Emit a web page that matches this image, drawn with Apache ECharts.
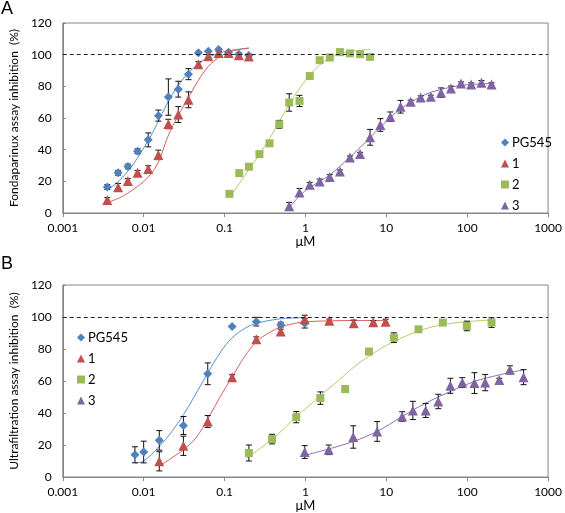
<!DOCTYPE html>
<html><head><meta charset="utf-8">
<script src="https://cdn.jsdelivr.net/npm/echarts@6/dist/echarts.min.js"></script>
<style>html,body{margin:0;padding:0;background:#fff}#c{width:565px;height:513px}</style>
</head><body><div id="c"></div>
<script>
// ---------- tick labels ----------
const xTickLabels = ['0.001','0.01','0.1','1','10','100','1000'];
const yTickLabels = ['0','20','40','60','80','100','120'];
const seriesNames = ['PG545','1','2','3'];
const refLevel = [100];

// ---------- Panel A: Fondaparinux assay ----------
const pgA_x = [0.00355,0.00483,0.00638,0.0084,0.0114,0.0152,0.0202,0.0268,0.0358,0.0475,0.063,0.0845,0.112,0.15,0.2];
const pgA_y = [16.4,25.4,29.4,39.0,46.2,61.5,73.2,78.2,87.7,101.2,102.2,103.2,101.5,100.2,99.4];
const pgA_e = [1.5,1.5,1.5,1.5,4.4,3.5,11.5,5,3.5,0,0,0,0,0,0];
const oneA_x = [0.00355,0.00483,0.00638,0.0084,0.0114,0.0152,0.0202,0.0268,0.0358,0.0475,0.063,0.0845,0.112,0.15,0.2];
const oneA_y = [8.2,16.2,20.2,25.4,27.8,36.7,56.2,62.2,71.5,94.0,99.0,101.0,101.0,99.6,98.8];
const oneA_e = [1.5,2.5,1.5,1.5,2,3,3,5,5,1.5,1,1,1,1.5,1.5];
const twoA_x = [0.115,0.152,0.2,0.27,0.36,0.475,0.63,0.845,1.13,1.5,2.0,2.67,3.55,4.74,6.3];
const twoA_y = [12.1,25.2,29.2,37.2,44.0,56.0,69.8,70.8,86.5,96.5,98.2,101.6,100.8,100.3,98.6];
const twoA_e = [0,0,0,0,0,2.5,5.5,3.5,0,0,0,0,0,0,0];
const threeA_x = [0.63,0.845,1.13,1.5,2.0,2.67,3.55,4.74,6.3,8.45,11.2,15.0,20,26.6,35.5,47.5,63,84,112,150,200];
const threeA_y = [4.2,13.0,17.8,19.9,22.7,26.2,35.0,37.3,47.8,55.6,60.8,67.1,70.3,73.0,73.4,76.0,78.7,81.8,81.2,82.2,81.2];
const threeA_e = [2.5,2.5,1.5,1.5,1.5,1,1,1,5,4,3,4,1,1,1,3,1.5,1,1,1.5,1];
// fitted curves
const fitPgA_x = [0.0036,0.005,0.007,0.01,0.013,0.017,0.022,0.03,0.04,0.055,0.08,0.12,0.2];
const fitPgA_y = [14.5,20.5,29,41,51,63,74,84,91,96.5,100.5,102.8,104];
const fitOneA_x = [0.0036,0.005,0.0064,0.0084,0.0114,0.015,0.02,0.027,0.036,0.047,0.063,0.085,0.112,0.15,0.2];
const fitOneA_y = [6.7,9.5,12.6,16.8,22.7,31.5,48.5,62,73,83.5,92.5,98.3,101.5,103.2,104.3];
const fitTwoA_x = [0.115,0.152,0.2,0.27,0.36,0.47,0.63,0.84,1.13,1.5,2,2.67,3.55,4.74,6.3];
const fitTwoA_y = [9.5,18.5,27.5,37,47,57.5,68.5,78.5,87,93.5,97.8,100.5,102,102.8,103.3];
const fitThreeA_x = [0.63,0.85,1.13,1.5,2,2.66,3.55,4.74,6.3,8.45,11.2,15,20,26.6,35.5,47.5,63,84,112,200];
const fitThreeA_y = [3.2,11,16.1,19.9,24.1,29.4,35.3,41.3,47.8,54.1,60.4,65.7,69.9,73.4,76.2,78,79.5,80.6,81.2,81.8];

// ---------- Panel B: Ultrafiltration assay ----------
const pgB_x = [0.0078,0.01,0.0156,0.031,0.062,0.124,0.247,0.495,0.98];
const pgB_y = [13.9,15.6,22.9,32.2,64.5,94.0,97.1,95.2,96.1];
const pgB_e = [5,6.8,6.1,5.6,6.8,0,2.7,1.5,3];
const oneB_x = [0.0156,0.031,0.062,0.124,0.247,0.495,0.98,1.97,3.95,6.9,9.8];
const oneB_y = [9.8,19.5,34.7,62.4,86.1,90.9,98.6,97.7,96.1,96.7,97.1];
const oneB_e = [6,6,3.7,1.5,1.5,1.5,2.5,1,2,1,1.5];
const twoB_x = [0.2,0.387,0.77,1.53,3.1,6.1,12.4,25,50,99,200];
const twoB_y = [15.0,23.7,37.4,49.3,54.9,78.4,87.1,92.3,96.5,94.4,96.5];
const twoB_e = [5,3,3.5,3.9,2,1,3,1,1,3,3];
const threeB_x = [0.98,1.94,3.9,7.7,15.7,21.3,30.7,43.9,62,87,123,167,249,337,498];
const threeB_y = [15.6,17.0,25.0,28.5,37.8,41.6,41.6,47.2,57.0,59.0,58.7,59.0,60.7,67.0,62.4];
const threeB_e = [4,3,7,6.2,3,5.7,4.4,4.5,4.7,3.1,6.5,5.1,1,2.5,4.7];
const fitPgB_x = [0.0078,0.01,0.0156,0.022,0.031,0.042,0.062,0.089,0.124,0.18,0.247,0.48,1.0];
const fitPgB_y = [8.7,10,19.1,28,38.9,50,65,78,87,93,96,98.8,99.6];
const fitOneB_x = [0.017,0.022,0.031,0.044,0.062,0.089,0.124,0.177,0.247,0.35,0.5,0.7,1.0,2.0,4,10];
const fitOneB_y = [8,11.8,17,24.3,36.2,50.5,62.4,75.3,84.5,90,93.8,95.8,97,97.6,97.8,97.8];
const fitTwoB_x = [0.187,0.27,0.387,0.55,0.77,1.11,1.53,2.2,3.1,4.4,6.1,8.7,12.4,25,50,100,200];
const fitTwoB_y = [11.8,17.5,23.7,30.5,37.8,44.5,51,57.5,64,70.5,75.5,80.5,84.6,91.3,95.2,97.1,98.1];
const fitThreeB_x = [0.98,1.94,3.9,7.7,15.7,30.7,62,123,249,498];
const fitThreeB_y = [13.5,17.5,22.2,28.5,37.8,46.2,53.4,59.7,63.8,67];

// ---------- styling ----------
const FONT = 'Lato';
const markerColors = ['#4F81BD','#C0504D','#9BBB59','#8064A2'];
const lineColors = ['#5B8FD3','#D9625E','#B5CC6A','#8F72B5'];
const symbols = ['diamond','triangle','rect','triangle'];
const symSizes = [9,10,8,10];

const zip = (xs, ys) => xs.map((x,i)=>[x, ys[i]]);
const zip3 = (xs, ys, es) => xs.map((x,i)=>[x, ys[i], es[i]]);

function errRender(params, api){
  const x = api.value(0), y = api.value(1), e = api.value(2);
  if (!e) return null;
  const t = api.coord([x, y+e]), b = api.coord([x, y-e]);
  const w = 3;
  const st = {stroke:'#111', lineWidth:1};
  return {type:'group', children:[
    {type:'line', shape:{x1:t[0],y1:t[1],x2:b[0],y2:b[1]}, style:st},
    {type:'line', shape:{x1:t[0]-w,y1:t[1],x2:t[0]+w,y2:t[1]}, style:st},
    {type:'line', shape:{x1:b[0]-w,y1:b[1],x2:b[0]+w,y2:b[1]}, style:st}
  ]};
}

function xAxisCfg(gi){
  return {
    type:'log', logBase:10, min:0.001, max:1000, gridIndex:gi,
    name:'μM', nameLocation:'middle', nameGap:22,
    nameTextStyle:{fontFamily:FONT, fontSize:13, color:'#000'},
    axisLine:{lineStyle:{color:'#868686', width:1}},
    axisTick:{show:true, inside:false, length:4, lineStyle:{color:'#868686'}},
    axisLabel:{fontFamily:FONT, fontSize:12, color:'#000', margin:9,
      formatter:(v)=> xTickLabels[Math.round(Math.log10(v))+3]},
    splitLine:{show:false}
  };
}
function yAxisCfg(gi, name){
  return {
    type:'value', min:0, max:120, interval:20, gridIndex:gi,
    name:name, nameLocation:'middle', nameGap:36,
    nameTextStyle:{fontFamily:FONT, fontSize:12, color:'#000'},
    axisLine:{show:true, lineStyle:{color:'#868686', width:1}},
    axisTick:{show:true, inside:true, length:3, lineStyle:{color:'#868686'}},
    axisLabel:{fontFamily:FONT, fontSize:12, color:'#000', margin:11,
      formatter:(v)=> yTickLabels[Math.round(v/20)]},
    splitLine:{show:false}
  };
}

const panels = [
  {pts:[[pgA_x,pgA_y,pgA_e],[oneA_x,oneA_y,oneA_e],[twoA_x,twoA_y,twoA_e],[threeA_x,threeA_y,threeA_e]],
   fits:[[fitPgA_x,fitPgA_y],[fitOneA_x,fitOneA_y],[fitTwoA_x,fitTwoA_y],[fitThreeA_x,fitThreeA_y]]},
  {pts:[[pgB_x,pgB_y,pgB_e],[oneB_x,oneB_y,oneB_e],[twoB_x,twoB_y,twoB_e],[threeB_x,threeB_y,threeB_e]],
   fits:[[fitPgB_x,fitPgB_y],[fitOneB_x,fitOneB_y],[fitTwoB_x,fitTwoB_y],[fitThreeB_x,fitThreeB_y]]}
];

const series = [];
panels.forEach((p, gi)=>{
  // fitted lines
  p.fits.forEach((f, k)=>{
    series.push({
      name:'fit'+gi+'_'+k, type:'line', xAxisIndex:gi, yAxisIndex:gi,
      data: zip(f[0], f[1]), smooth:0.35, showSymbol:false, silent:true,
      lineStyle:{color:lineColors[k], width:1}, z:2,
      markLine: k===0 ? {silent:true, symbol:'none', label:{show:false},
        lineStyle:{color:'#222', width:1, type:[4,3]},
        data: refLevel.map(v=>({yAxis:v}))} : undefined
    });
  });
  // error bars
  p.pts.forEach((d, k)=>{
    series.push({
      name:'err'+gi+'_'+k, type:'custom', xAxisIndex:gi, yAxisIndex:gi,
      data: zip3(d[0], d[1], d[2]), renderItem: errRender,
      encode:{x:0, y:1}, silent:true, z:3
    });
  });
  // markers
  p.pts.forEach((d, k)=>{
    series.push({
      name: seriesNames[k], type:'scatter', xAxisIndex:gi, yAxisIndex:gi,
      data: zip(d[0], d[1]), symbol:symbols[k], symbolSize:symSizes[k],
      itemStyle:{color:markerColors[k], opacity:1}, z:4
    });
  });
});

function legendCfg(left, top){
  return {
    left:left, top:top, orient:'vertical', itemWidth:8, itemHeight:8, itemGap:8,
    textStyle:{fontFamily:FONT, fontSize:13, color:'#000', padding:[0,0,0,-2]},
    data: seriesNames.map((n,k)=>({name:n, icon:symbols[k]})),
    selectedMode:false
  };
}

const chart = echarts.init(document.getElementById('c'), null, {renderer:'canvas'});
chart.setOption({
  animation:false,
  backgroundColor:'#fff',
  grid:[
    {left:59, top:23, width:493, height:190, show:true, borderColor:'#868686', borderWidth:1},
    {left:60, top:285, width:492, height:192, show:true, borderColor:'#868686', borderWidth:1}
  ],
  xAxis:[xAxisCfg(0), xAxisCfg(1)],
  yAxis:[yAxisCfg(0,'Fondaparinux assay inhibition  (%)'), yAxisCfg(1,'Ultrafiltration assay inhibition  (%)')],
  legend:[legendCfg(496,131), legendCfg(72,326)],
  graphic:[
    {type:'text', left:1, top:0, style:{text:'A', font:'18px "Liberation Sans"', fill:'#000'}},
    {type:'text', left:1, top:255, style:{text:'B', font:'18px "Liberation Sans"', fill:'#000'}}
  ],
  series: series
});
</script></body></html>
